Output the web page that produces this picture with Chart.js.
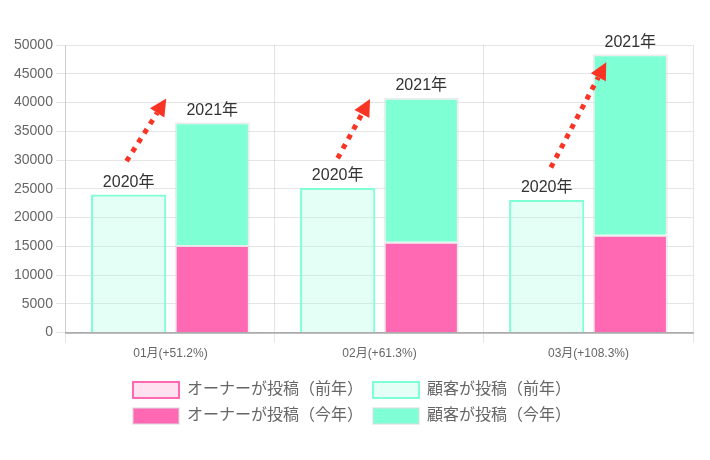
<!DOCTYPE html>
<html>
<head>
<meta charset="utf-8">
<script src="https://cdn.jsdelivr.net/npm/chart.js@4.4.1/dist/chart.umd.min.js"></script>
<style>
  html, body { margin: 0; padding: 0; background: #fff; }
  #wrap { width: 710px; height: 460px; }
</style>
</head>
<body>
<div id="wrap"><canvas id="c" width="710" height="460"></canvas></div>
<script>
const categories = ['01月(+51.2%)', '02月(+61.3%)', '03月(+108.3%)'];
const ownerPrev = [0, 0, 0];
const customerPrev = [24000, 25150, 23050];
const ownerCur = [15250, 15800, 17000];
const customerCur = [21300, 25050, 31400];
const yearLabels = ['2020年', '2021年'];
const seriesNames = ['オーナーが投稿（前年）', '顧客が投稿（前年）', 'オーナーが投稿（今年）', '顧客が投稿（今年）'];
const yTicks = { min: 0, max: 50000, step: 5000 };
// arrow annotation anchors: [category offset, value]
const arrowFrom = [[-0.21, 29800], [-0.20, 30300], [-0.18, 28700]];
const arrowTo = [[-0.02, 40700], [-0.045, 40600], [0.085, 47000]];

const FONT = '"Liberation Sans", "Noto Sans CJK JP", sans-serif';

const labelPlugin = {
  id: 'yearLabels',
  afterDatasetsDraw(chart) {
    const ctx = chart.ctx;
    const xs = chart.scales.x, ys = chart.scales.y;
    ctx.save();
    ctx.font = '16px ' + FONT;
    ctx.fillStyle = '#333';
    ctx.textAlign = 'center';
    ctx.textBaseline = 'bottom';
    const metaPrev = chart.getDatasetMeta(1);
    const metaCur = chart.getDatasetMeta(3);
    categories.forEach((c, i) => {
      const bp = metaPrev.data[i];
      const bc = metaCur.data[i];
      ctx.fillText(yearLabels[0], bp.x, bp.y - 4);
      ctx.fillText(yearLabels[1], bc.x, bc.y - 4);
    });
    const red = 'rgb(250,52,36)';
    categories.forEach((c, i) => {
      const x1 = xs.getPixelForValue(i + arrowFrom[i][0]);
      const y1 = ys.getPixelForValue(arrowFrom[i][1]);
      const x2 = xs.getPixelForValue(i + arrowTo[i][0]);
      const y2 = ys.getPixelForValue(arrowTo[i][1]);
      const ang = Math.atan2(y2 - y1, x2 - x1);
      const headLen = 17, headHalf = 8.5;
      const bx = x2 - headLen * Math.cos(ang);
      const by = y2 - headLen * Math.sin(ang);
      ctx.strokeStyle = red;
      ctx.lineWidth = 5;
      ctx.setLineDash([5, 6]);
      ctx.lineCap = 'butt';
      ctx.beginPath();
      ctx.moveTo(x1, y1);
      ctx.lineTo(bx, by);
      ctx.stroke();
      ctx.setLineDash([]);
      ctx.fillStyle = red;
      ctx.beginPath();
      ctx.moveTo(x2, y2);
      ctx.lineTo(bx + headHalf * Math.sin(ang), by - headHalf * Math.cos(ang));
      ctx.lineTo(bx - headHalf * Math.sin(ang), by + headHalf * Math.cos(ang));
      ctx.closePath();
      ctx.fill();
    });
    ctx.restore();
  }
};

new Chart(document.getElementById('c'), {
  type: 'bar',
  data: {
    labels: categories,
    datasets: [
      { label: seriesNames[0], data: ownerPrev, stack: 'prev',
        backgroundColor: 'rgba(255,105,180,0.2)', borderColor: '#ff69b4', borderWidth: 2 },
      { label: seriesNames[1], data: customerPrev, stack: 'prev',
        backgroundColor: 'rgba(127,255,212,0.22)', borderColor: '#7fffd4', borderWidth: 2 },
      { label: seriesNames[2], data: ownerCur, stack: 'cur',
        backgroundColor: '#ff69b4', borderColor: 'rgba(220,220,220,0.5)', borderWidth: 2 },
      { label: seriesNames[3], data: customerCur, stack: 'cur',
        backgroundColor: '#7fffd4', borderColor: 'rgba(220,220,220,0.5)', borderWidth: 2 }
    ]
  },
  options: {
    responsive: false,
    animation: false,
    devicePixelRatio: 1,
    layout: { padding: { top: 45, right: 17, left: 11, bottom: 26 } },
    plugins: {
      legend: {
        position: 'bottom',
        labels: { font: { size: 16, family: FONT }, color: '#666', boxWidth: 46, padding: 10 }
      },
      tooltip: { enabled: false }
    },
    scales: {
      x: {
        stacked: true,
        grid: { color: 'rgba(0,0,0,0.1)', tickLength: 10 },
        border: { color: 'rgba(0,0,0,0.25)', width: 2 },
        ticks: { font: { size: 12, family: FONT }, color: '#666', padding: 4 },
        afterFit: (scale) => { scale.height += 7; }
      },
      y: {
        stacked: true,
        min: yTicks.min, max: yTicks.max,
        grid: { color: 'rgba(0,0,0,0.1)', tickLength: 10 },
        border: { color: 'rgba(0,0,0,0.1)' },
        ticks: { stepSize: yTicks.step, font: { size: 14, family: FONT }, color: '#666', padding: 3,
                 callback: (v) => String(v) }
      }
    }
  },
  plugins: [labelPlugin]
});
</script>
</body>
</html>
